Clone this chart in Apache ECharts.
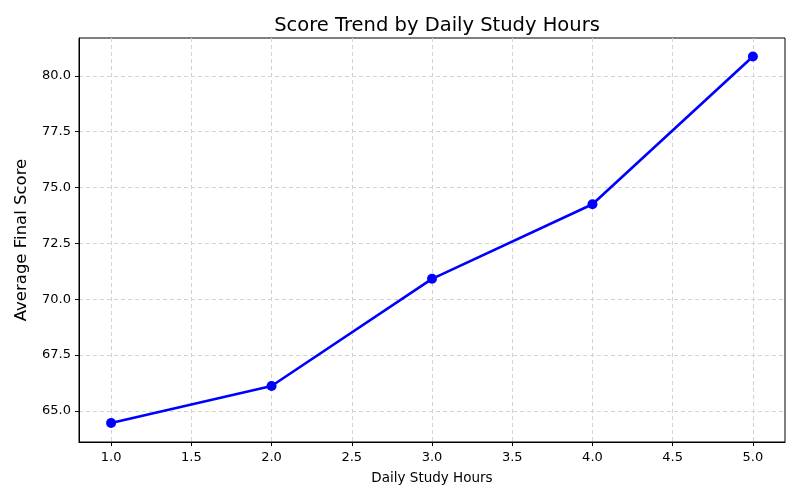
<!DOCTYPE html>
<html>
<head>
<meta charset="utf-8">
<script src="https://cdn.jsdelivr.net/npm/echarts@6/dist/echarts.min.js"></script>
<style>
  html, body { margin: 0; padding: 0; background: #fff; }
  #chart { width: 800px; height: 500px; }
</style>
</head>
<body>
<div id="chart"></div>
<script>
// data
const hours  = [1, 2, 3, 4, 5];
const scores = [64.45, 66.11, 70.91, 74.25, 80.87];
const xTicks = [1.0, 1.5, 2.0, 2.5, 3.0, 3.5, 4.0, 4.5, 5.0];
const yTicks = [65.0, 67.5, 70.0, 72.5, 75.0, 77.5, 80.0];

const font = 'DejaVu Sans';
const chart = echarts.init(document.getElementById('chart'));

const gridLine = { show: true, lineStyle: { color: '#d3d3d3', type: [4, 3], width: 1 } };

chart.setOption({
  animation: false,
  title: {
    text: 'Score Trend by Daily Study Hours',
    left: 432, top: 11, textAlign: 'center',   // centred over the plot area, not the page
    textStyle: { fontFamily: font, fontSize: 19.5, fontWeight: 'normal', color: '#000' },
  },
  grid: {
    left: 79, right: 15, top: 38, bottom: 58,
    show: true, borderColor: '#000', borderWidth: 1, backgroundColor: 'transparent',
  },
  xAxis: {
    type: 'value', min: 0.8, max: 5.2,
    name: 'Daily Study Hours', nameLocation: 'middle', nameGap: 29,
    nameTextStyle: { fontFamily: font, fontSize: 13.5, color: '#000' },
    axisLine: { show: true, onZero: false, lineStyle: { color: '#000' } },
    axisTick: { show: true, length: 4, customValues: xTicks, lineStyle: { color: '#000' } },
    axisLabel: {
      customValues: xTicks, margin: 9,
      fontFamily: font, fontSize: 13, color: '#000',
      formatter: v => v.toFixed(1),
    },
    splitLine: gridLine,
  },
  yAxis: {
    type: 'value', min: 63.6, max: 81.7,
    name: 'Average Final Score', nameLocation: 'middle', nameGap: 49,
    nameTextStyle: { fontFamily: font, fontSize: 16.5, color: '#000' },
    axisLine: { show: true, lineStyle: { color: '#000' } },
    axisTick: { show: true, length: 4, customValues: yTicks, lineStyle: { color: '#000' } },
    axisLabel: {
      customValues: yTicks, margin: 8,
      fontFamily: font, fontSize: 13, color: '#000',
      formatter: v => v.toFixed(1),
    },
    splitLine: gridLine,
  },
  series: [{
    type: 'line',
    data: hours.map((h, i) => [h, scores[i]]),
    symbol: 'circle', symbolSize: 10,
    lineStyle: { color: '#0000ff', width: 2.6 },
    itemStyle: { color: '#0000ff' },
  }],
});
</script>
</body>
</html>
